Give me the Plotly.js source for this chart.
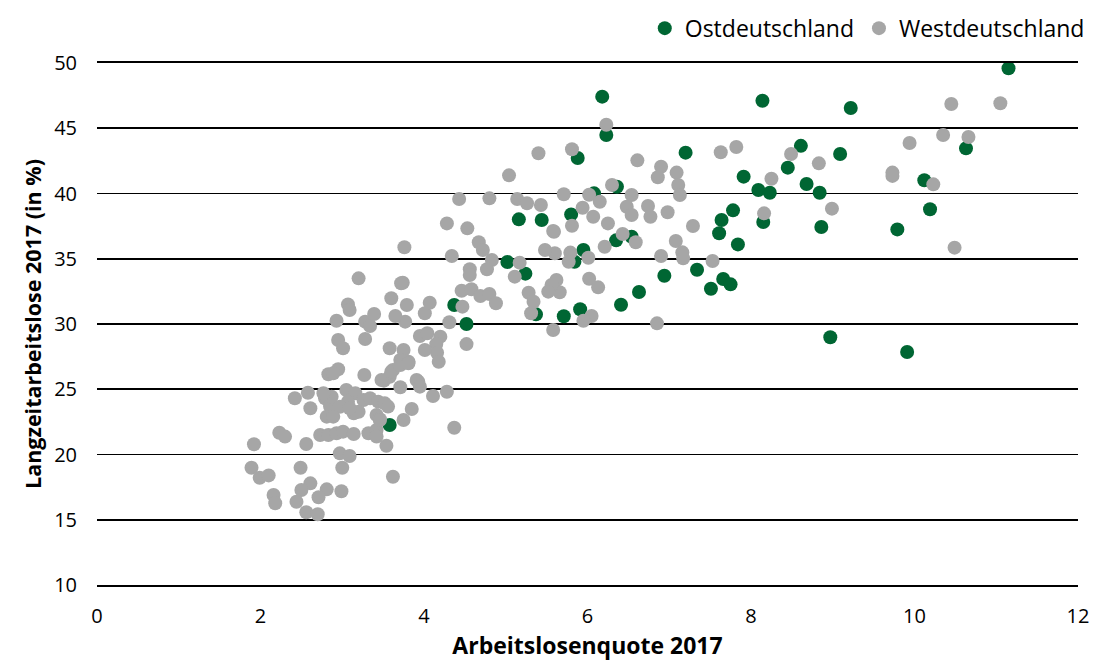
<!DOCTYPE html>
<html>
<head>
<meta charset="utf-8">
<script src="https://cdn.plot.ly/plotly-3.0.1.min.js"></script>
<style>html,body{margin:0;padding:0;background:#fff;}#chart{width:1097px;height:663px;}</style>
</head>
<body>
<div id="chart"></div>
<script>
// Ostdeutschland
const ostX = [11.15,9.22,8.14,6.18,6.23,5.88,7.2,8.61,9.09,10.63,8.45,7.91,8.68,8.09,8.23,8.84,10.12,10.19,8.15,8.86,9.79,7.78,7.64,7.61,7.84,7.34,6.94,7.66,7.75,7.51,6.63,6.41,5.91,5.71,5.37,5.8,6.36,6.08,6.35,6.54,5.95,5.84,5.16,5.44,5.02,5.24,4.37,4.52,3.58,8.97,9.91];
const ostY = [49.6,46.55,47.11,47.42,44.48,42.72,43.13,43.65,43.03,43.46,41.98,41.29,40.73,40.27,40.06,40.06,41.01,38.79,37.82,37.43,37.25,38.71,37.97,36.95,36.1,34.16,33.7,33.45,33.04,32.7,32.45,31.48,31.13,30.59,30.74,38.4,40.52,40.01,36.41,36.69,35.67,34.77,38.02,37.97,34.75,33.86,31.46,30.0,22.26,28.98,27.85];
// Westdeutschland
const westX = [10.45,11.05,8.49,8.83,9.94,10.35,10.66,9.73,9.73,10.23,8.99,10.49,6.23,5.81,6.61,7.63,7.82,6.9,6.86,7.09,7.11,7.13,6.3,6.02,5.71,6.15,5.94,6.07,6.25,6.54,6.48,6.54,6.74,6.77,6.98,8.25,8.16,7.29,6.43,6.59,6.21,5.59,5.81,5.6,5.79,5.77,6.01,7.08,7.16,7.17,6.9,7.53,5.62,5.66,6.02,6.13,5.56,6.05,5.95,6.85,5.4,5.04,4.43,4.8,4.28,4.53,3.76,4.34,4.67,4.72,4.83,4.77,4.56,4.56,5.14,5.26,5.43,5.58,5.48,5.17,5.11,5.52,5.28,5.34,5.31,5.58,4.46,4.58,4.69,4.8,4.88,4.47,4.31,4.52,4.01,4.07,3.79,3.74,3.77,3.95,4.04,4.2,4.15,4.16,4.01,4.18,3.91,3.2,3.72,3.07,3.09,3.6,2.93,3.28,3.39,3.34,3.65,2.95,3.01,3.28,3.58,3.75,3.81,3.71,3.62,3.58,3.27,3.51,3.71,3.93,3.85,4.11,4.28,4.37,2.95,2.83,2.58,2.42,2.61,2.79,2.85,2.81,2.89,2.87,2.77,3.05,3.16,3.07,3.14,3.26,3.34,3.44,3.52,3.56,3.2,3.42,3.46,3.75,3.32,3.42,2.97,3.09,2.89,2.23,2.3,2.73,2.83,2.93,3.01,3.14,1.92,2.56,3.54,2.97,3.09,3.0,1.89,1.99,2.1,2.49,3.62,2.16,2.18,2.61,2.5,2.44,2.81,2.71,2.99,2.56,2.7,3.48,3.6,3.71,3.81,3.95,3.46,3.42];
const westY = [46.86,46.91,43.03,42.31,43.87,44.48,44.33,41.6,41.35,40.7,38.84,35.85,45.27,43.39,42.54,43.16,43.56,42.05,41.24,41.6,40.65,39.88,40.65,39.9,39.94,39.37,38.91,38.22,37.71,39.88,38.99,38.35,39.04,38.22,38.56,41.13,38.48,37.51,36.9,36.26,35.92,37.07,37.53,35.42,35.47,34.77,35.08,36.36,35.49,35.03,35.21,34.83,33.37,32.43,33.47,32.81,32.99,30.61,30.25,30.05,43.08,41.39,39.58,39.63,37.71,37.33,35.88,35.21,36.26,35.67,34.9,34.19,34.19,33.75,39.58,39.25,39.12,37.13,35.67,34.7,33.63,32.48,32.4,31.71,30.82,29.54,32.55,32.66,32.15,32.3,31.59,31.33,30.13,28.46,30.82,31.63,31.46,33.16,30.18,29.08,29.29,29.03,28.46,27.8,28.01,27.11,25.71,33.5,33.12,31.5,31.07,31.97,30.25,30.18,30.77,29.85,30.61,28.77,28.14,28.85,28.14,28.01,27.11,27.24,26.48,25.96,26.09,25.66,25.15,25.58,23.49,24.48,24.81,22.05,26.53,26.15,24.73,24.31,23.54,24.31,23.72,22.9,26.22,24.43,24.69,24.94,24.69,24.05,23.16,24.18,24.31,24.05,23.92,23.67,23.28,23.03,22.7,22.64,21.63,21.88,23.66,23.54,22.9,21.67,21.37,21.49,21.49,21.63,21.75,21.57,20.78,20.8,20.67,20.09,19.89,18.99,18.99,18.22,18.4,18.99,18.3,16.9,16.26,17.79,17.28,16.38,17.33,16.72,17.18,15.57,15.42,25.71,26.34,26.86,26.99,25.2,22.64,21.37];

const seriesNames = ['Ostdeutschland','Westdeutschland'];
const xTicks = [0,2,4,6,8,10,12];
const yTicks = [10,15,20,25,30,35,40,45,50];

const font = 'Open Sans, Noto Sans, sans-serif';
const traces = [
  {x: ostX, y: ostY, name: seriesNames[0], type: 'scatter', mode: 'markers',
   marker: {color: '#006633', size: 14}},
  {x: westX, y: westY, name: seriesNames[1], type: 'scatter', mode: 'markers',
   marker: {color: '#A6A6A6', size: 14}}
];
const layout = {
  width: 1097, height: 663,
  margin: {l: 97, r: 19, t: 63, b: 78, pad: 0},
  paper_bgcolor: '#fff', plot_bgcolor: '#fff',
  font: {family: font, size: 20, color: '#000'},
  showlegend: true,
  legend: {orientation: 'h', x: 1.012, xanchor: 'right', y: 0.925, yanchor: 'bottom',
           yref: 'container', font: {family: font, size: 23, color: '#000'},
           itemwidth: 30, traceorder: 'normal'},
  xaxis: {range: [0, 12], tickvals: xTicks, showgrid: false, zeroline: false,
          showline: true, linecolor: '#000', linewidth: 1.8, mirror: true,
          ticks: 'outside', ticklen: 12, tickcolor: 'rgba(0,0,0,0)',
          tickfont: {family: font, size: 20},
          title: {text: '<b>Arbeitslosenquote 2017</b>', font: {family: font, size: 23}, standoff: 6}},
  yaxis: {range: [10, 50], tickvals: yTicks, showgrid: true, gridcolor: '#000', gridwidth: 1.8,
          zeroline: false, showline: false, ticks: 'outside', ticklen: 15, tickcolor: 'rgba(0,0,0,0)',
          tickfont: {family: font, size: 20},
          title: {text: '<b>Langzeitarbeitslose 2017 (in %)</b>', font: {family: font, size: 21.5}, standoff: 6}}
};
Plotly.newPlot('chart', traces, layout, {displayModeBar: false, staticPlot: true});
</script>
</body>
</html>
